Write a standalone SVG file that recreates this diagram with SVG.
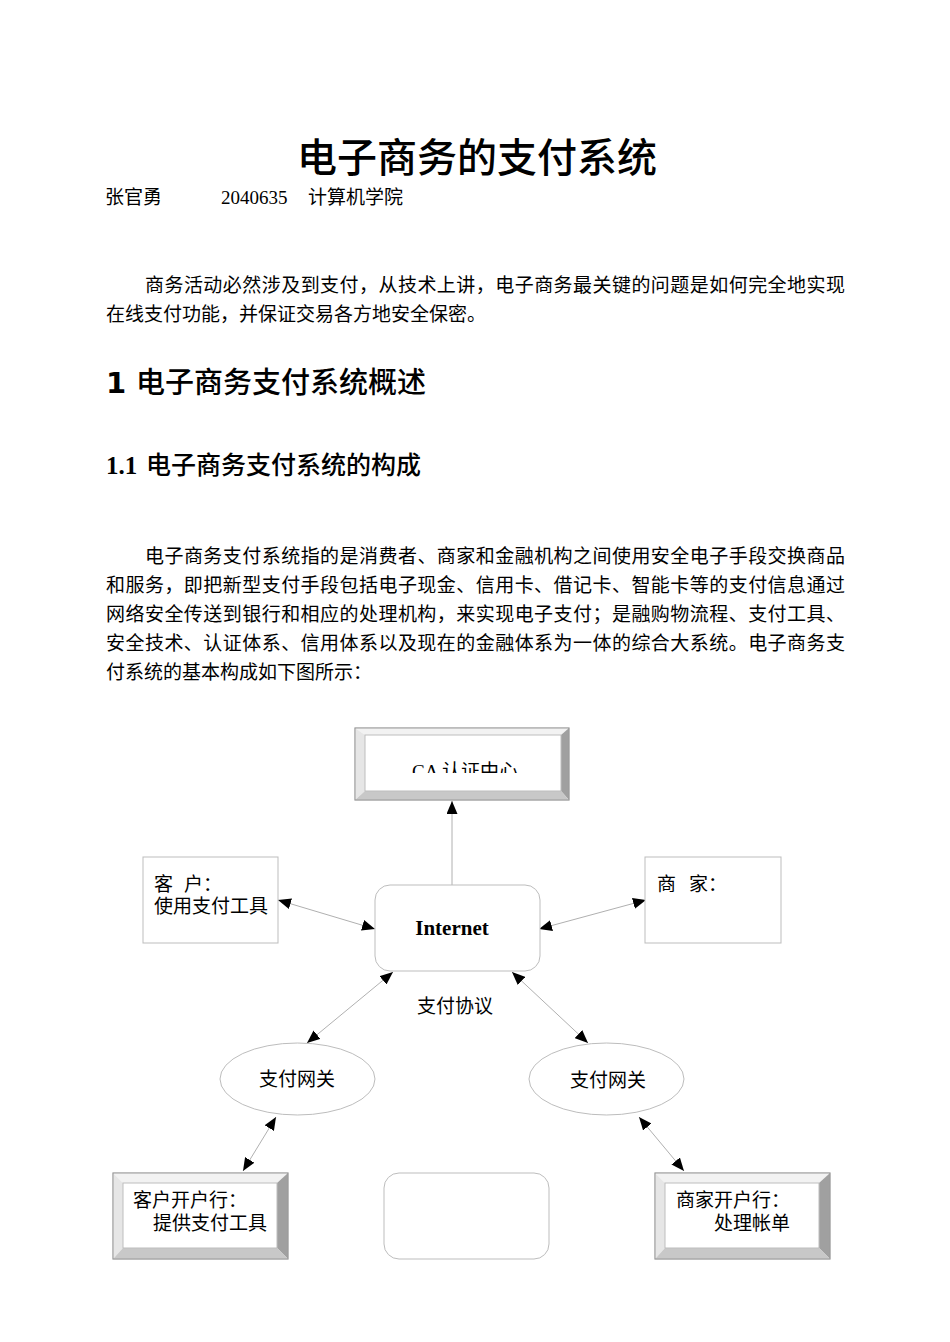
<svg xmlns="http://www.w3.org/2000/svg" width="950" height="1342" viewBox="0 0 950 1342">
<style>
.body{font-family:"Liberation Serif","Noto Sans CJK SC",serif;font-size:19px;fill:#000}
.title{font-family:"Noto Sans CJK SC",sans-serif;font-size:40px;font-weight:500;fill:#000}
.h1{font-family:"Noto Sans CJK SC",sans-serif;font-size:29px;font-weight:500;fill:#000}
.h2{font-family:"Noto Sans CJK SC",sans-serif;font-size:25px;font-weight:500;fill:#000}
.lbl{font-family:"Liberation Serif","Noto Sans CJK SC",serif;font-size:19px;fill:#000}
.box{fill:#fff;stroke:#bdbdbd;stroke-width:1}
.conn{stroke:#b0b0b0;stroke-width:1;fill:none;marker-start:url(#ah);marker-end:url(#ah)}
.bt{fill:#f2f2f2}.bl{fill:#e6e6e6}.br{fill:#a0a0a0}.bb{fill:#c8c8c8}
</style>
<defs>
<marker id="ah" viewBox="0 0 13 11" refX="13" refY="5.5" markerWidth="13" markerHeight="11" markerUnits="userSpaceOnUse" orient="auto-start-reverse">
<path d="M0,0 L13,5.5 L0,11 z" fill="#000"/>
</marker>
<marker id="ahe" viewBox="0 0 13 11" refX="13" refY="5.5" markerWidth="13" markerHeight="11" markerUnits="userSpaceOnUse" orient="auto">
<path d="M0,0 L13,5.5 L0,11 z" fill="#000"/>
</marker>
<clipPath id="caclip"><rect x="355" y="728" width="214" height="45"/></clipPath>
</defs>

<g id="text">
<text class="title" x="477" y="172" text-anchor="middle">电子商务的支付系统</text>
<text class="body" x="105" y="204">张官勇</text>
<text class="body" x="221" y="204">2040635</text>
<text class="body" x="308" y="204">计算机学院</text>
<text class="body" x="145" y="292" textLength="700" lengthAdjust="spacing">商务活动必然涉及到支付，从技术上讲，电子商务最关键的问题是如何完全地实现</text>
<text class="body" x="106" y="321">在线支付功能，并保证交易各方地安全保密。</text>
<text class="h1" x="106" y="393"><tspan font-family="DejaVu Sans" font-weight="700" font-size="29">1</tspan><tspan x="136">电子商务支付系统概述</tspan></text>
<text class="h2" x="106" y="474"><tspan font-family="Liberation Serif" font-weight="700" font-size="25">1.1</tspan><tspan x="146">电子商务支付系统的构成</tspan></text>
<text class="body" x="145" y="563" textLength="700" lengthAdjust="spacing">电子商务支付系统指的是消费者、商家和金融机构之间使用安全电子手段交换商品</text>
<text class="body" x="106" y="592" textLength="739" lengthAdjust="spacing">和服务，即把新型支付手段包括电子现金、信用卡、借记卡、智能卡等的支付信息通过</text>
<text class="body" x="106" y="621" textLength="739" lengthAdjust="spacing">网络安全传送到银行和相应的处理机构，来实现电子支付；是融购物流程、支付工具、</text>
<text class="body" x="106" y="650" textLength="739" lengthAdjust="spacing">安全技术、认证体系、信用体系以及现在的金融体系为一体的综合大系统。电子商务支</text>
<text class="body" x="106" y="679">付系统的基本构成如下图所示：</text>
</g>

<g id="connectors">
<line x1="452" y1="885" x2="452" y2="801" stroke="#b0b0b0" stroke-width="1" marker-end="url(#ahe)"/>
<line class="conn" x1="278" y1="900" x2="375" y2="929"/>
<line class="conn" x1="539" y1="929" x2="646" y2="900"/>
<line class="conn" x1="393" y1="972" x2="307" y2="1043"/>
<line class="conn" x1="512" y1="972" x2="588" y2="1043"/>
<line class="conn" x1="276" y1="1117" x2="243" y2="1171"/>
<line class="conn" x1="639" y1="1117" x2="684" y2="1171"/>
<text class="lbl" x="455" y="1013" text-anchor="middle">支付协议</text>
</g>

<g id="ca">
<rect class="box" x="355" y="728" width="214" height="72"/>
<polygon class="bt" points="355,728 569,728 561,735 365,735"/>
<polygon class="bl" points="355,728 365,735 365,791 355,800"/>
<polygon class="br" points="569,728 569,800 561,791 561,735"/>
<polygon class="bb" points="355,800 569,800 561,791 365,791"/>
<rect x="365" y="735" width="196" height="56" fill="#fff" stroke="#bdbdbd"/>
<rect x="355" y="728" width="214" height="72" fill="none" stroke="#9a9a9a"/>
<text class="lbl" x="412" y="778" clip-path="url(#caclip)">CA 认证中心</text>
</g>

<g id="client">
<rect class="box" x="143" y="857" width="135" height="86"/>
<text class="lbl" y="891"><tspan x="154">客</tspan><tspan x="184">户：</tspan></text>
<text class="lbl" x="154" y="913">使用支付工具</text>
</g>

<g id="internet">
<rect class="box" x="375" y="885" width="165" height="86" rx="15"/>
<text x="452" y="935" text-anchor="middle" font-family="Liberation Serif,serif" font-size="21" font-weight="700">Internet</text>
</g>

<g id="merchant">
<rect class="box" x="645" y="857" width="136" height="86"/>
<text class="lbl" y="891"><tspan x="657">商</tspan><tspan x="689">家：</tspan></text>
</g>

<g id="gateway-left">
<ellipse class="box" cx="297.5" cy="1079" rx="77.5" ry="36"/>
<text class="lbl" x="297" y="1086" text-anchor="middle">支付网关</text>
</g>

<g id="gateway-right">
<ellipse class="box" cx="606.5" cy="1079" rx="77.5" ry="36"/>
<text class="lbl" x="608" y="1087" text-anchor="middle">支付网关</text>
</g>

<g id="client-bank">
<rect class="box" x="113" y="1173" width="175" height="86"/>
<polygon class="bt" points="113,1173 288,1173 277,1183 123,1183"/>
<polygon class="bl" points="113,1173 123,1183 123,1248 113,1259"/>
<polygon class="br" points="288,1173 288,1259 277,1248 277,1183"/>
<polygon class="bb" points="113,1259 288,1259 277,1248 123,1248"/>
<rect x="123" y="1183" width="154" height="65" fill="#fff" stroke="#bdbdbd"/>
<rect x="113" y="1173" width="175" height="86" fill="none" stroke="#9a9a9a"/>
<text class="lbl" x="133" y="1207">客户开户行：</text>
<text class="lbl" x="153" y="1230">提供支付工具</text>
</g>

<g id="blank">
<rect class="box" x="384" y="1173" width="165" height="86" rx="15"/>
</g>

<g id="merchant-bank">
<rect class="box" x="655" y="1173" width="175" height="86"/>
<polygon class="bt" points="655,1173 830,1173 819,1183 665,1183"/>
<polygon class="bl" points="655,1173 665,1183 665,1248 655,1259"/>
<polygon class="br" points="830,1173 830,1259 819,1248 819,1183"/>
<polygon class="bb" points="655,1259 830,1259 819,1248 665,1248"/>
<rect x="665" y="1183" width="154" height="65" fill="#fff" stroke="#bdbdbd"/>
<rect x="655" y="1173" width="175" height="86" fill="none" stroke="#9a9a9a"/>
<text class="lbl" x="676" y="1207">商家开户行：</text>
<text class="lbl" x="714" y="1230">处理帐单</text>
</g>
</svg>
